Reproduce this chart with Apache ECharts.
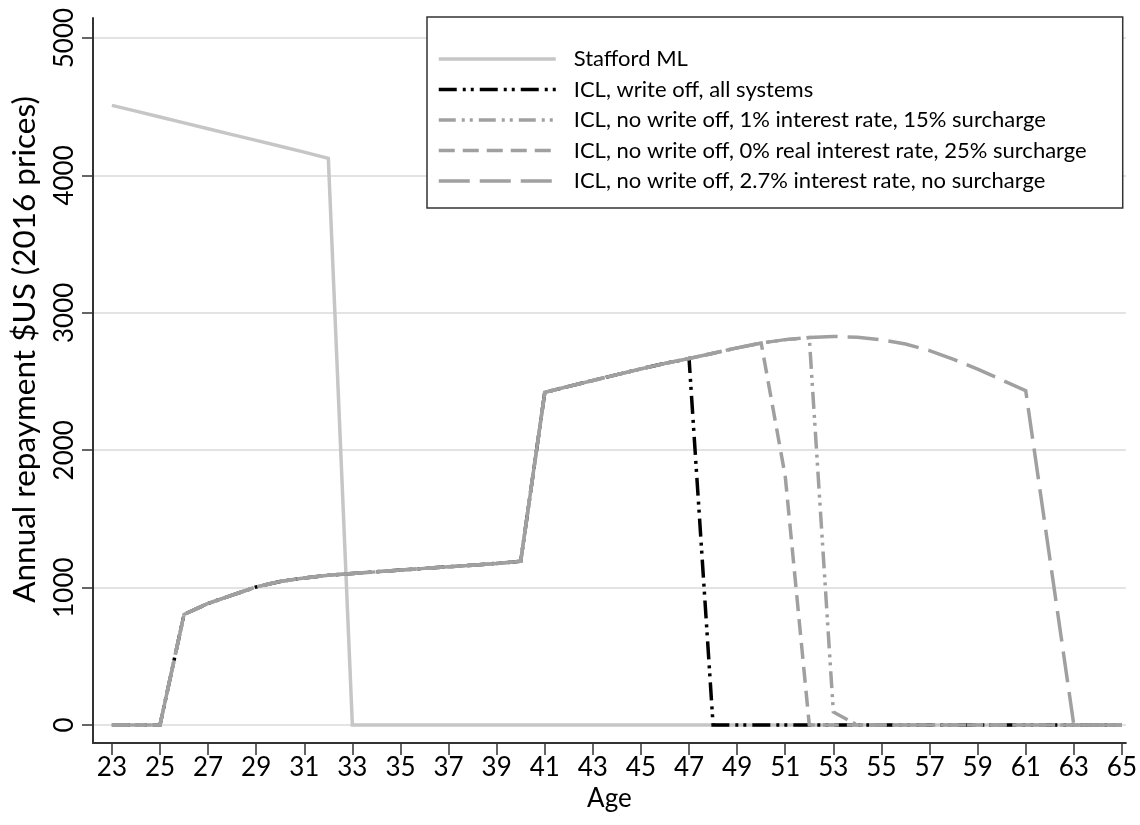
<!DOCTYPE html>
<html>
<head>
<meta charset="utf-8">
<script src="https://cdn.jsdelivr.net/npm/echarts@6/dist/echarts.min.js"></script>
<style>
html,body{margin:0;padding:0;background:#fff;}
#chart{width:1140px;height:825px;}
</style>
</head>
<body>
<div id="chart"></div>
<script>
const ages = [23,24,25,26,27,28,29,30,31,32,33,34,35,36,37,38,39,40,41,42,43,44,45,46,47,48,49,50,51,52,53,54,55,56,57,58,59,60,61,62,63,64,65];
const xTicks = [23,25,27,29,31,33,35,37,39,41,43,45,47,49,51,53,55,57,59,61,63,65];
const yTicks = [0,1000,2000,3000,4000,5000];

const stafford = [4510,4468,4425,4383,4340,4297,4255,4212,4170,4125,0,0,0,0,0,0,0,0,0,0,0,0,0,0,0,0,0,0,0,0,0,0,0,0,0,0,0,0,0,0,0,0,0];
const iclWriteOff = [0,0,0,805,885,945,1005,1045,1070,1090,1103,1115,1128,1140,1152,1163,1176,1192,2421,2465,2508,2550,2592,2632,2668,0,0,0,0,0,0,0,0,0,0,0,0,0,0,0,0,0,0];
const iclRate1 = [0,0,0,805,885,945,1005,1045,1070,1090,1103,1115,1128,1140,1152,1163,1176,1192,2421,2465,2508,2550,2592,2632,2668,2706,2745,2780,2805,2820,95,0,0,0,0,0,0,0,0,0,0,0,0];
const iclReal0 = [0,0,0,805,885,945,1005,1045,1070,1090,1103,1115,1128,1140,1152,1163,1176,1192,2421,2465,2508,2550,2592,2632,2668,2706,2745,2780,1810,0,0,0,0,0,0,0,0,0,0,0,0,0,0];
const iclRate27 = [0,0,0,805,885,945,1005,1045,1070,1090,1103,1115,1128,1140,1152,1163,1176,1192,2421,2465,2508,2550,2592,2632,2668,2706,2745,2780,2805,2820,2828,2822,2803,2773,2725,2662,2590,2512,2433,1215,0,0,0];

const names = [
  'Stafford ML',
  'ICL, write off, all systems',
  'ICL, no write off, 1% interest rate, 15% surcharge',
  'ICL, no write off, 0% real interest rate, 25% surcharge',
  'ICL, no write off, 2.7% interest rate, no surcharge'
];
const values = [stafford, iclWriteOff, iclRate1, iclReal0, iclRate27];
const colors = ['#c6c6c6', '#000000', '#a0a0a0', '#a0a0a0', '#a0a0a0'];
const dashes = ['solid', [18,6,3,5,3,6], [17,6,3,5,3,6], [16,8], [31,10]];

const FONT = 'Lato';
const series = names.map((n, i) => ({
  name: n,
  type: 'line',
  data: ages.map((a, j) => [a, values[i][j]]),
  symbol: 'none',
  showSymbol: false,
  smooth: false,
  animation: false,
  lineStyle: { color: colors[i], width: 3.5, type: dashes[i], cap: 'butt', join: 'miter' },
  itemStyle: { color: colors[i] },
  z: 2 + i
}));

const chart = echarts.init(document.getElementById('chart'), null, { renderer: 'canvas' });
chart.setOption({
  animation: false,
  backgroundColor: '#ffffff',
  grid: { left: 93, right: 8, top: 18, bottom: 82, containLabel: false },
  legend: {
    orient: 'vertical',
    left: 427,
    top: 17,
    padding: [31, 36, 16, 10],
    itemGap: 8.5,
    itemWidth: 117,
    itemHeight: 20,
    backgroundColor: '#ffffff',
    borderColor: '#333333',
    borderWidth: 1.5,
    borderRadius: 0,
    itemStyle: { opacity: 0, borderWidth: 0 },
    lineStyle: { width: 3.5 },
    textStyle: { fontFamily: FONT, fontSize: 22, color: '#000', lineHeight: 20, padding: [0, 0, 0, 13] },
    data: names
  },
  xAxis: {
    type: 'value',
    min: 22.2145,
    max: 65.165,
    name: 'Age',
    nameLocation: 'middle',
    nameGap: 37,
    nameTextStyle: { fontFamily: FONT, fontSize: 26, color: '#000' },
    axisLine: { show: true, onZero: false, lineStyle: { color: '#333', width: 2 } },
    axisTick: { show: true, length: 12, lineStyle: { color: '#333', width: 1.5 }, customValues: xTicks },
    axisLabel: { fontFamily: FONT, fontSize: 26, color: '#000', margin: 12, customValues: xTicks },
    splitLine: { show: false }
  },
  yAxis: {
    type: 'value',
    min: -131,
    max: 5146,
    name: 'Annual repayment $US (2016 prices)',
    nameLocation: 'middle',
    nameGap: 52,
    nameTextStyle: { fontFamily: FONT, fontSize: 31.5, color: '#000', padding: [0, 0, 0, 62] },
    axisLine: { show: true, onZero: false, lineStyle: { color: '#333', width: 2 } },
    axisTick: { show: true, length: 11, lineStyle: { color: '#333', width: 1.5 }, customValues: yTicks },
    axisLabel: { fontFamily: FONT, fontSize: 26, color: '#000', margin: 15, rotate: 90, customValues: yTicks, formatter: (v) => String(v) },
    splitLine: { show: true, lineStyle: { color: '#e3e3e3', width: 2 } }
  },
  series: series
});
</script>
</body>
</html>
